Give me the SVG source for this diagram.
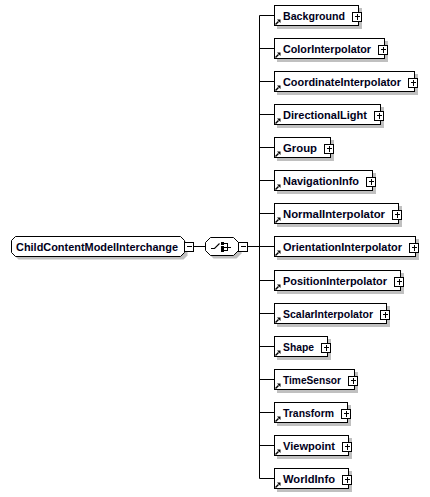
<svg xmlns="http://www.w3.org/2000/svg" xmlns:xlink="http://www.w3.org/1999/xlink" width="430" height="497" viewBox="0 0 430 497">
<style>
.bg{fill:#fff}
.box{fill:#fff;stroke:#000;stroke-width:1}
.sh{fill:#c0c0c0}
.lbl{font-family:"Liberation Sans",Arial,sans-serif;font-weight:bold;font-size:11.6px;fill:#00001a}
.conn{stroke:#000;stroke-width:1;fill:none}
</style>
<defs>
<g id="plus" shape-rendering="crispEdges"><rect x="-4.5" y="-4.5" width="9" height="9" fill="#fff" stroke="#000"/><path d="M-2.5,0H3M0,-2.5V3" stroke="#000" fill="none"/></g>
<g id="minus" shape-rendering="crispEdges"><rect x="-4.5" y="-4.5" width="9" height="9" fill="#fff" stroke="#000"/><path d="M-2.5,0H3" stroke="#000" fill="none"/></g>
<g id="ref"><path d="M0.5,5.5L3.5,2.5" stroke="#000" stroke-width="1.4" fill="none"/><path d="M2,0.5H5.5V4Z" fill="#000"/></g>
</defs>
<rect class="bg" x="0" y="0" width="430" height="497"/>
<g id="connectors">
<path class="conn" d="M193,246.5H205.5"/>
<path class="conn" d="M247,246.5H259.5"/>
<path class="conn" d="M259.5,15.5V478.5"/>
<path class="conn" d="M259.5,15.5H274.5M259.5,48.5H274.5M259.5,81.5H274.5M259.5,114.5H274.5M259.5,147.5H274.5M259.5,180.5H274.5M259.5,213.5H274.5M259.5,246.5H274.5M259.5,280.5H274.5M259.5,313.5H274.5M259.5,346.5H274.5M259.5,379.5H274.5M259.5,412.5H274.5M259.5,445.5H274.5M259.5,478.5H274.5"/>
</g>
<g id="ChildContentModelInterchange">
<path class="sh" d="M18.5,239.5H183.5L187.5,243.5V255.5L183.5,259.5H18.5L14.5,255.5V243.5Z"/>
<path class="box" d="M15.5,236.5H180.5L184.5,240.5V252.5L180.5,256.5H15.5L11.5,252.5V240.5Z"/>
<text class="lbl" x="16" y="251" textLength="162" lengthAdjust="spacingAndGlyphs">ChildContentModelInterchange</text>
<use xlink:href="#minus" transform="translate(189,246.5)"/>
</g>
<g id="sequence">
<path class="sh" d="M213.5,240.5H236.5L241.5,245.5V253.5L236.5,258.5H213.5L208.5,253.5V245.5Z"/>
<path class="box" d="M210.5,237.5H233.5L238.5,242.5V250.5L233.5,255.5H210.5L205.5,250.5V242.5Z"/>
<path d="M211,248.5H214.5L219.5,243.5" stroke="#000" stroke-width="1.1" fill="none"/>
<g shape-rendering="crispEdges">
<rect x="221" y="242" width="3" height="3" fill="#000"/>
<rect x="221" y="245.5" width="3" height="3" fill="#000"/>
<rect x="221" y="249" width="3" height="3" fill="#000"/>
<path d="M224,243.5H227.5M224,247H231M224,250.5H227.5M227.5,243V251" stroke="#000" fill="none"/>
</g>
<use xlink:href="#minus" transform="translate(243,246.5)"/>
</g>
<g id="Background">
<rect class="sh" x="277" y="8" width="85" height="21"/>
<rect class="box" x="274.5" y="5.5" width="84" height="20"/>
<use xlink:href="#ref" transform="translate(275,19)"/>
<text class="lbl" x="283" y="20" textLength="62" lengthAdjust="spacingAndGlyphs">Background</text>
<use xlink:href="#plus" transform="translate(357,16.5)"/>
</g>
<g id="ColorInterpolator">
<rect class="sh" x="277" y="41" width="111" height="21"/>
<rect class="box" x="274.5" y="38.5" width="110" height="20"/>
<use xlink:href="#ref" transform="translate(275,52)"/>
<text class="lbl" x="283" y="53" textLength="88" lengthAdjust="spacingAndGlyphs">ColorInterpolator</text>
<use xlink:href="#plus" transform="translate(383,49.5)"/>
</g>
<g id="CoordinateInterpolator">
<rect class="sh" x="277" y="74" width="141" height="21"/>
<rect class="box" x="274.5" y="71.5" width="140" height="20"/>
<use xlink:href="#ref" transform="translate(275,85)"/>
<text class="lbl" x="283" y="86" textLength="118" lengthAdjust="spacingAndGlyphs">CoordinateInterpolator</text>
<use xlink:href="#plus" transform="translate(413,82.5)"/>
</g>
<g id="DirectionalLight">
<rect class="sh" x="277" y="107" width="107" height="21"/>
<rect class="box" x="274.5" y="104.5" width="106" height="20"/>
<use xlink:href="#ref" transform="translate(275,118)"/>
<text class="lbl" x="283" y="119" textLength="84" lengthAdjust="spacingAndGlyphs">DirectionalLight</text>
<use xlink:href="#plus" transform="translate(379,115.5)"/>
</g>
<g id="Group">
<rect class="sh" x="277" y="140" width="57" height="21"/>
<rect class="box" x="274.5" y="137.5" width="56" height="20"/>
<use xlink:href="#ref" transform="translate(275,151)"/>
<text class="lbl" x="283" y="152" textLength="34" lengthAdjust="spacingAndGlyphs">Group</text>
<use xlink:href="#plus" transform="translate(329,148.5)"/>
</g>
<g id="NavigationInfo">
<rect class="sh" x="277" y="173" width="99" height="21"/>
<rect class="box" x="274.5" y="170.5" width="98" height="20"/>
<use xlink:href="#ref" transform="translate(275,184)"/>
<text class="lbl" x="283" y="185" textLength="76" lengthAdjust="spacingAndGlyphs">NavigationInfo</text>
<use xlink:href="#plus" transform="translate(371,181.5)"/>
</g>
<g id="NormalInterpolator">
<rect class="sh" x="277" y="206" width="125" height="21"/>
<rect class="box" x="274.5" y="203.5" width="124" height="20"/>
<use xlink:href="#ref" transform="translate(275,217)"/>
<text class="lbl" x="283" y="218" textLength="102" lengthAdjust="spacingAndGlyphs">NormalInterpolator</text>
<use xlink:href="#plus" transform="translate(397,214.5)"/>
</g>
<g id="OrientationInterpolator">
<rect class="sh" x="277" y="239" width="142" height="21"/>
<rect class="box" x="274.5" y="236.5" width="141" height="20"/>
<use xlink:href="#ref" transform="translate(275,250)"/>
<text class="lbl" x="283" y="251" textLength="119" lengthAdjust="spacingAndGlyphs">OrientationInterpolator</text>
<use xlink:href="#plus" transform="translate(414,247.5)"/>
</g>
<g id="PositionInterpolator">
<rect class="sh" x="277" y="273" width="127" height="21"/>
<rect class="box" x="274.5" y="270.5" width="126" height="20"/>
<use xlink:href="#ref" transform="translate(275,284)"/>
<text class="lbl" x="283" y="285" textLength="104" lengthAdjust="spacingAndGlyphs">PositionInterpolator</text>
<use xlink:href="#plus" transform="translate(399,281.5)"/>
</g>
<g id="ScalarInterpolator">
<rect class="sh" x="277" y="306" width="113" height="21"/>
<rect class="box" x="274.5" y="303.5" width="112" height="20"/>
<use xlink:href="#ref" transform="translate(275,317)"/>
<text class="lbl" x="283" y="318" textLength="90" lengthAdjust="spacingAndGlyphs">ScalarInterpolator</text>
<use xlink:href="#plus" transform="translate(385,314.5)"/>
</g>
<g id="Shape">
<rect class="sh" x="277" y="339" width="54" height="21"/>
<rect class="box" x="274.5" y="336.5" width="53" height="20"/>
<use xlink:href="#ref" transform="translate(275,350)"/>
<text class="lbl" x="283" y="351" textLength="31" lengthAdjust="spacingAndGlyphs">Shape</text>
<use xlink:href="#plus" transform="translate(326,347.5)"/>
</g>
<g id="TimeSensor">
<rect class="sh" x="277" y="372" width="81" height="21"/>
<rect class="box" x="274.5" y="369.5" width="80" height="20"/>
<use xlink:href="#ref" transform="translate(275,383)"/>
<text class="lbl" x="283" y="384" textLength="58" lengthAdjust="spacingAndGlyphs">TimeSensor</text>
<use xlink:href="#plus" transform="translate(353,380.5)"/>
</g>
<g id="Transform">
<rect class="sh" x="277" y="405" width="74" height="21"/>
<rect class="box" x="274.5" y="402.5" width="73" height="20"/>
<use xlink:href="#ref" transform="translate(275,416)"/>
<text class="lbl" x="283" y="417" textLength="51" lengthAdjust="spacingAndGlyphs">Transform</text>
<use xlink:href="#plus" transform="translate(346,413.5)"/>
</g>
<g id="Viewpoint">
<rect class="sh" x="277" y="438" width="75" height="21"/>
<rect class="box" x="274.5" y="435.5" width="74" height="20"/>
<use xlink:href="#ref" transform="translate(275,449)"/>
<text class="lbl" x="283" y="450" textLength="52" lengthAdjust="spacingAndGlyphs">Viewpoint</text>
<use xlink:href="#plus" transform="translate(347,446.5)"/>
</g>
<g id="WorldInfo">
<rect class="sh" x="277" y="471" width="75" height="21"/>
<rect class="box" x="274.5" y="468.5" width="74" height="20"/>
<use xlink:href="#ref" transform="translate(275,482)"/>
<text class="lbl" x="283" y="483" textLength="52" lengthAdjust="spacingAndGlyphs">WorldInfo</text>
<use xlink:href="#plus" transform="translate(347,479.5)"/>
</g>
</svg>
